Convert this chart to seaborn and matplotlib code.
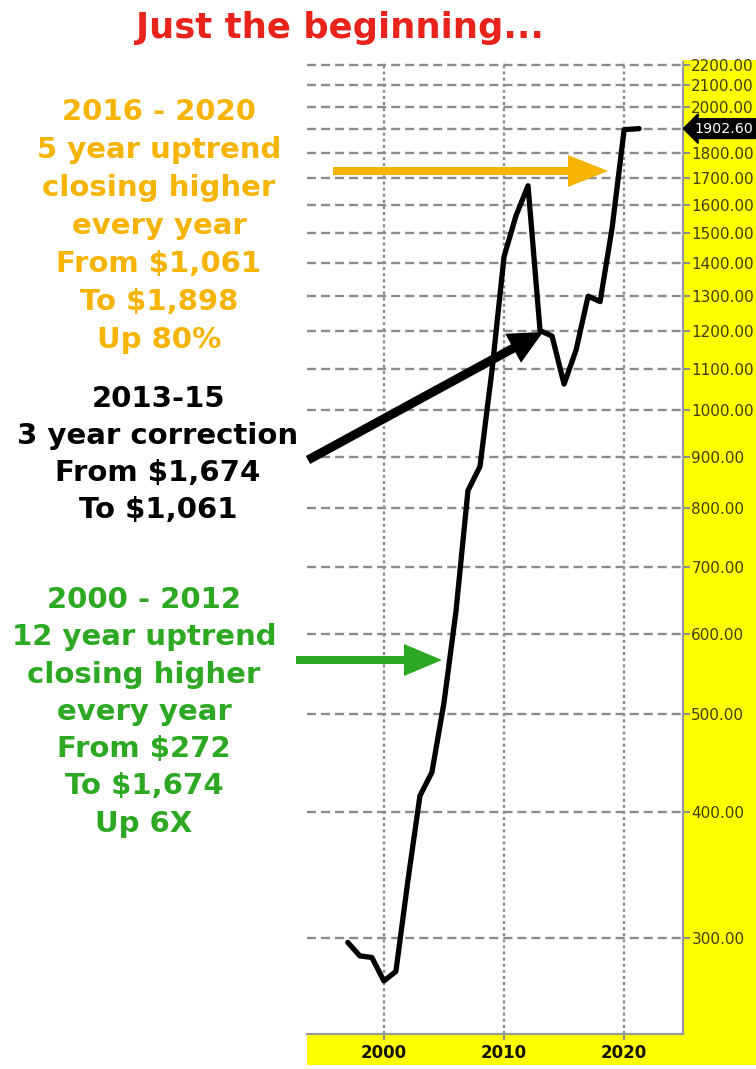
import matplotlib
matplotlib.use("Agg")
import matplotlib.pyplot as plt
import matplotlib.transforms as mtransforms
from matplotlib.patches import Rectangle, FancyArrow
import seaborn as sns
import pandas as pd

# ---------------- data ----------------
years = [1997, 1998, 1999, 2000, 2001, 2002, 2003, 2004, 2005, 2006, 2007, 2008,
         2009, 2010, 2011, 2012, 2013, 2014, 2015, 2016, 2017, 2018, 2019, 2020, 2021.25]
gold_close = [297, 288, 287, 272, 278, 342, 415, 438, 513, 632, 833, 880,
              1096, 1420, 1560, 1670, 1200, 1185, 1062, 1148, 1298, 1282, 1517, 1898, 1902.6]

y_ticks = [300, 400, 500, 600, 700, 800, 900, 1000, 1100, 1200, 1300, 1400,
           1500, 1600, 1700, 1800, 1900, 2000, 2100, 2200]
x_ticks = [2000, 2010, 2020]
last_label = "1902.60"

title = "Just the beginning..."
orange_lines = ["2016 - 2020", "5 year uptrend", "closing higher", "every year",
                "From $1,061", "To $1,898", "Up 80%"]
black_lines = ["2013-15", "3 year correction", "From $1,674", "To $1,061"]
green_lines = ["2000 - 2012", "12 year uptrend", "closing higher", "every year",
               "From $272", "To $1,674", "Up 6X"]

ORANGE = "#F6B400"
GREEN = "#2DA822"
RED = "#E8231C"
YELLOW = "#FFFF00"
LABEL = "#3f3f00"
GRID = "#8c8c8c"

# ---------------- figure ----------------
sns.set_style("white")
plt.rcParams["font.family"] = ["DejaVu Sans"]
plt.rcParams["lines.scale_dashes"] = False

W, H = 756, 1069
fig = plt.figure(figsize=(W / 100, H / 100), dpi=100)
fig.patch.set_facecolor("white")

# pixel (image coords, y down) -> figure transform
pix = mtransforms.Affine2D().scale(1 / W, -1 / H).translate(0, 1) + fig.transFigure

# yellow areas
fig.add_artist(Rectangle((683, 60), W - 683, 1065 - 60, transform=pix,
                         facecolor=YELLOW, edgecolor="none", zorder=0))
fig.add_artist(Rectangle((307, 1034), 683 - 307, 1065 - 1034, transform=pix,
                         facecolor=YELLOW, edgecolor="none", zorder=0))

ax_l, ax_r, ax_t, ax_b = 307, 683, 62, 1034
ax = fig.add_axes([ax_l / W, (H - ax_b) / H, (ax_r - ax_l) / W, (ax_b - ax_t) / H])
ax.set_facecolor("white")

df = pd.DataFrame({"year": years, "price": gold_close})
sns.lineplot(data=df, x="year", y="price", color="black", linewidth=3.8,
             ax=ax, legend=False, zorder=5)

ax.set_yscale("log")
ax.set_ylim(241, 2215)
ax.set_xlim(1993.6, 2024.9)

ax.yaxis.set_major_locator(matplotlib.ticker.FixedLocator(y_ticks))
ax.yaxis.set_minor_locator(matplotlib.ticker.NullLocator())
ax.yaxis.set_major_formatter(matplotlib.ticker.FixedFormatter(
    ["" if v == 1900 else f"{v:.2f}" for v in y_ticks]))
ax.xaxis.set_major_locator(matplotlib.ticker.FixedLocator(x_ticks))
ax.xaxis.set_major_formatter(matplotlib.ticker.FixedFormatter([str(v) for v in x_ticks]))

ax.yaxis.tick_right()
ax.tick_params(axis="y", which="major", length=5, width=1.4, color=GRID,
               labelsize=11, labelcolor=LABEL, pad=1, right=True, left=False)
ax.tick_params(axis="x", which="major", length=4, width=1.4, color=GRID,
               labelsize=12, labelcolor="#151500", pad=3, bottom=True)
for lab in ax.get_xticklabels():
    lab.set_fontweight("bold")

ax.set_xlabel("")
ax.set_ylabel("")
ax.grid(False)
ax.yaxis.grid(True, color=GRID, linewidth=1.7, linestyle=(0, (6.5, 3.6)))
ax.xaxis.grid(True, color=GRID, linewidth=1.7, linestyle=(0, (2.2, 2.2)))
for s in ["left", "top"]:
    ax.spines[s].set_visible(False)
for s in ["right", "bottom"]:
    ax.spines[s].set_color("#9a9a9a")
    ax.spines[s].set_linewidth(1.6)

# last value tag
ax.text(1.0 + 11 / (ax_r - ax_l), 1902.6, last_label, transform=ax.get_yaxis_transform(),
        ha="left", va="center", color="white", fontsize=10.3, clip_on=False,
        bbox=dict(boxstyle="larrow,pad=0.2", facecolor="black", edgecolor="black"),
        zorder=10)

# ---------------- texts ----------------
fig.text(340 / W, 1 - 28 / H, title, ha="center", va="center", color=RED,
         fontsize=25.5, fontweight="bold")


def block(lines, cx, y0, step, color):
    for i, line in enumerate(lines):
        fig.text(cx / W, 1 - (y0 + i * step) / H, line, ha="center", va="center",
                 color=color, fontsize=21, fontweight="bold")


block(orange_lines, 159, 112, 38, ORANGE)
block(black_lines, 158, 399, 37, "black")
block(green_lines, 144, 600, 37.3, GREEN)

# ---------------- arrows ----------------

def arrow(x0, y0, x1, y1, w, hw, hl, color):
    fig.add_artist(FancyArrow(x0, y0, x1 - x0, y1 - y0, width=w, head_width=hw,
                              head_length=hl, length_includes_head=True,
                              transform=pix, color=color, linewidth=0, zorder=20))


arrow(333, 171, 608, 171, 8, 32, 40, ORANGE)
arrow(308, 460, 543, 332, 9, 33, 34, "black")
arrow(296, 660, 442, 660, 8, 32, 38, GREEN)

fig.savefig("out.png", dpi=100)
